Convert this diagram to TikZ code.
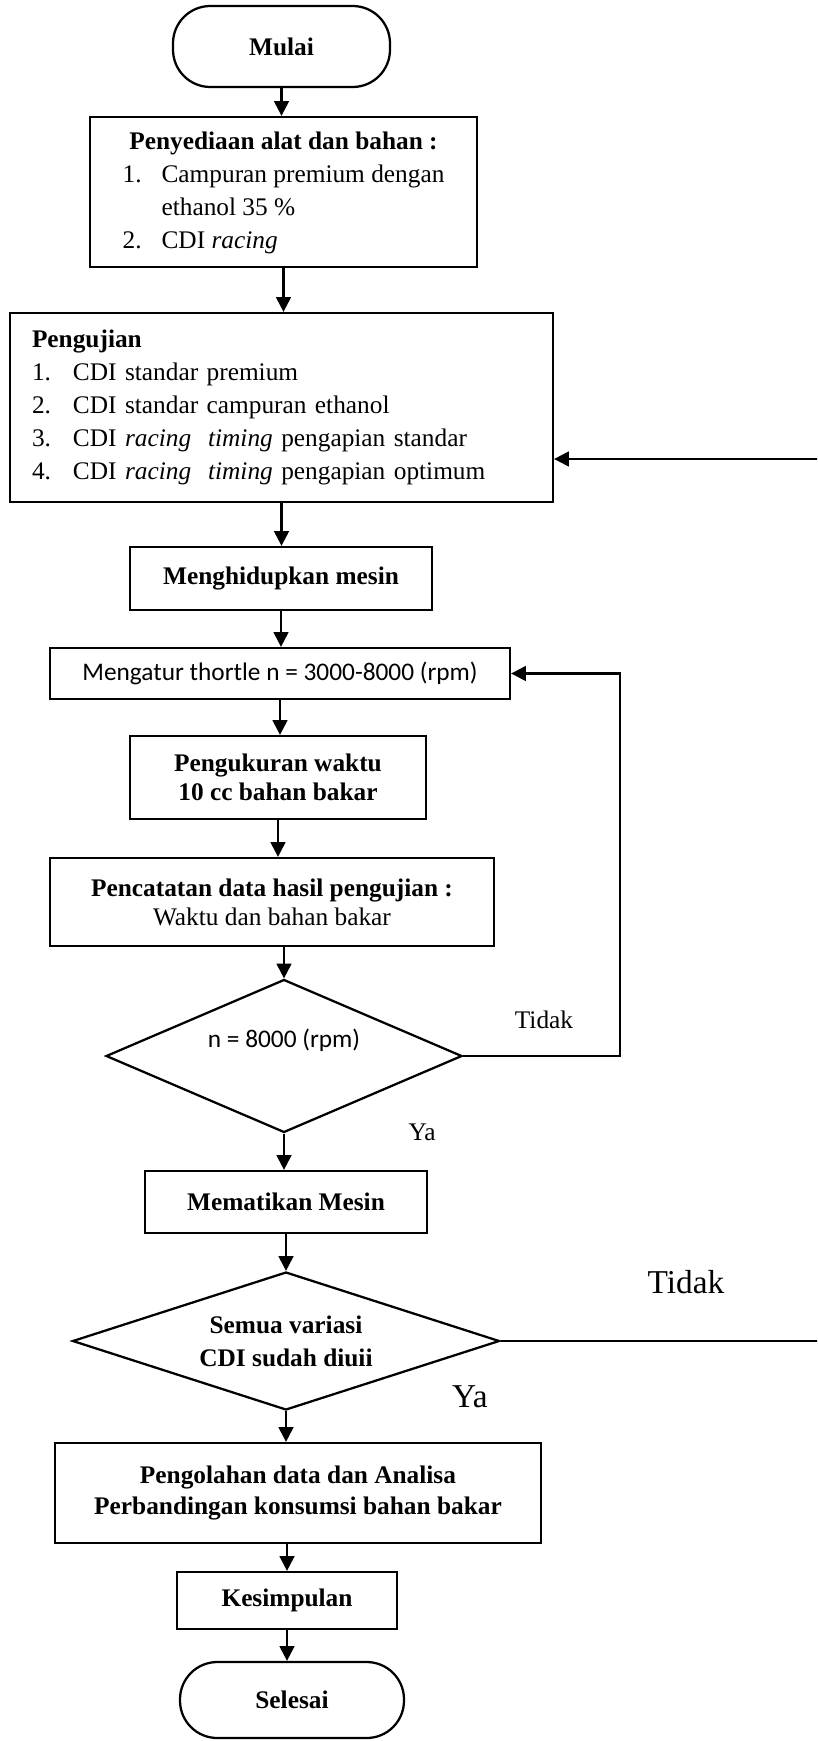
\documentclass[tikz,border=0pt]{standalone}
\usepackage{fontspec}
\setmainfont{Liberation Serif}
\newfontfamily\carlito{Carlito}
\usetikzlibrary{
    arrows.meta,
    shapes.geometric,
    calc,
    positioning
}
\tikzset{kotak/.style={draw=black, line width=1.7pt, inner sep=0pt, align=center, font=\fontsize{19}{24.75}\selectfont\bfseries}}
\tikzset{ujung/.style={kotak, rounded corners=28pt}}
\tikzset{cabang/.style={kotak, diamond, aspect=3}}
\tikzset{panah/.style={line width=1.7pt, -{Triangle[length=11pt, width=11pt]}}}
\tikzset{ket/.style={font=\fontsize{19}{24}\selectfont}}
\tikzset{ketbesar/.style={font=\fontsize{25}{30}\selectfont}}
\newcommand{\butir}[2][29.25pt]{\makebox[#1][l]{#2}}

\begin{document}
\begin{tikzpicture}[x=0.75pt, y=-0.75pt]
                        \useasboundingbox (0,0) rectangle (817,1741);
                        \clip (0,0) rectangle (817,1741);

                        \node[ujung, minimum width=162.75pt, minimum height=60.75pt] (mulai) at (281.5,46.5) {Mulai};
                        \node[kotak, minimum width=290.25pt, minimum height=112.5pt, font=\fontsize{19}{24.75}\selectfont] (siap) at (283.5,192) {\begin{tabular}{@{}l@{}}
                            \multicolumn{1}{@{}c@{}}{\bfseries Penyediaan alat dan bahan :}\\
                            \butir{1.}Campuran premium dengan\\
                            \butir{}ethanol 35 \%\\
                            \butir{2.}CDI \textit{racing}
                        \end{tabular}};
                        \node[kotak, minimum width=407.25pt, minimum height=141.75pt, text width=374.25pt, inner xsep=16.5pt, align=left, font=\fontsize{19}{24.75}\selectfont] (uji) at (281.5,407.5) {\textbf{Pengujian}\\
                            \butir[30.75pt]{1.}CDI standar premium\\
                            \butir[30.75pt]{2.}CDI standar campuran ethanol\\
                            \butir[30.75pt]{3.}CDI \textit{racing}\ \ \textit{timing} pengapian standar\\
                            \butir[30.75pt]{4.}CDI \textit{racing}\ \ \textit{timing} pengapian optimum};
                        \node[kotak, minimum width=226.5pt, minimum height=47.25pt] (hidup) at (281,578.5) {Menghidupkan mesin};
                        \node[kotak, minimum width=345pt, minimum height=38.25pt, font=\fontsize{19}{24}\carlito] (atur) at (280,673.5) {Mengatur thortle n = 3000-8000 (rpm)};
                        \node[kotak, minimum width=222pt, minimum height=62.25pt] (ukur) at (278,777.5) {Pengukuran waktu\\[-3pt] 10 cc bahan bakar};
                        \node[kotak, minimum width=333pt, minimum height=66pt] (catat) at (272,902) {Pencatatan data hasil pengujian :\\[-3pt] {\mdseries Waktu dan bahan bakar}};
                        \node[cabang, aspect=2.3, minimum width=267pt, minimum height=114.75pt,
                            label={[name=cek1teks, yshift=12pt, font=\fontsize{19}{24}\carlito]center:n = 8000 (rpm)}] (cek1) at (284,1056) {};
                        \node[kotak, minimum width=211.5pt, minimum height=46.5pt] (mati) at (286,1202) {Mematikan Mesin};
                        \node[cabang, aspect=3.1, minimum width=320.25pt, minimum height=103.5pt] (cek2) at (286,1341) {Semua variasi\\ CDI sudah diuii};
                        \node[kotak, minimum width=364.5pt, minimum height=75pt] (olah) at (298,1493) {Pengolahan data dan Analisa\\[-2pt] Perbandingan konsumsi bahan bakar};
                        \node[kotak, minimum width=165pt, minimum height=42.75pt] (simpul) at (287,1600.5) {Kesimpulan};
                        \node[ujung, minimum width=168pt, minimum height=57pt] (selesai) at (292,1700) {Selesai};

                        \node[ket] (tidak1) at (544,1020) {Tidak};
                        \node[ket] (ya1) at (422,1132) {Ya};
                        \node[ketbesar] (tidak2) at (686,1282) {Tidak};
                        \node[ketbesar] (ya2) at (470,1397) {Ya};

                        \draw[panah] (mulai) -- (mulai |- siap.north);
                        \draw[panah] (siap) -- (siap |- uji.north);
                        \draw[panah] (uji) -- (uji |- hidup.north);
                        \draw[panah] (hidup) -- (hidup |- atur.north);
                        \draw[panah] (atur) -- (atur |- ukur.north);
                        \draw[panah] (ukur) -- (ukur |- catat.north);
                        \draw[panah] (cek1 |- catat.south) -- (cek1);
                        \draw[panah] (cek1) -- (cek1 |- mati.north);
                        \draw[panah] (mati) -- (cek2);
                        \draw[panah] (cek2) -- (cek2 |- olah.north);
                        \draw[panah] (simpul |- olah.south) -- (simpul);
                        \draw[panah] (simpul) -- (simpul |- selesai.north);

                        % putaran kembali
                        \draw[panah] (cek1.east) -- ++(157,0) |- (atur.east);
                        \draw[panah] (cek2.east) -- ++(340,0) |- ($(uji.east)+(0,51.5)$);
                    \end{tikzpicture}
\end{document}
